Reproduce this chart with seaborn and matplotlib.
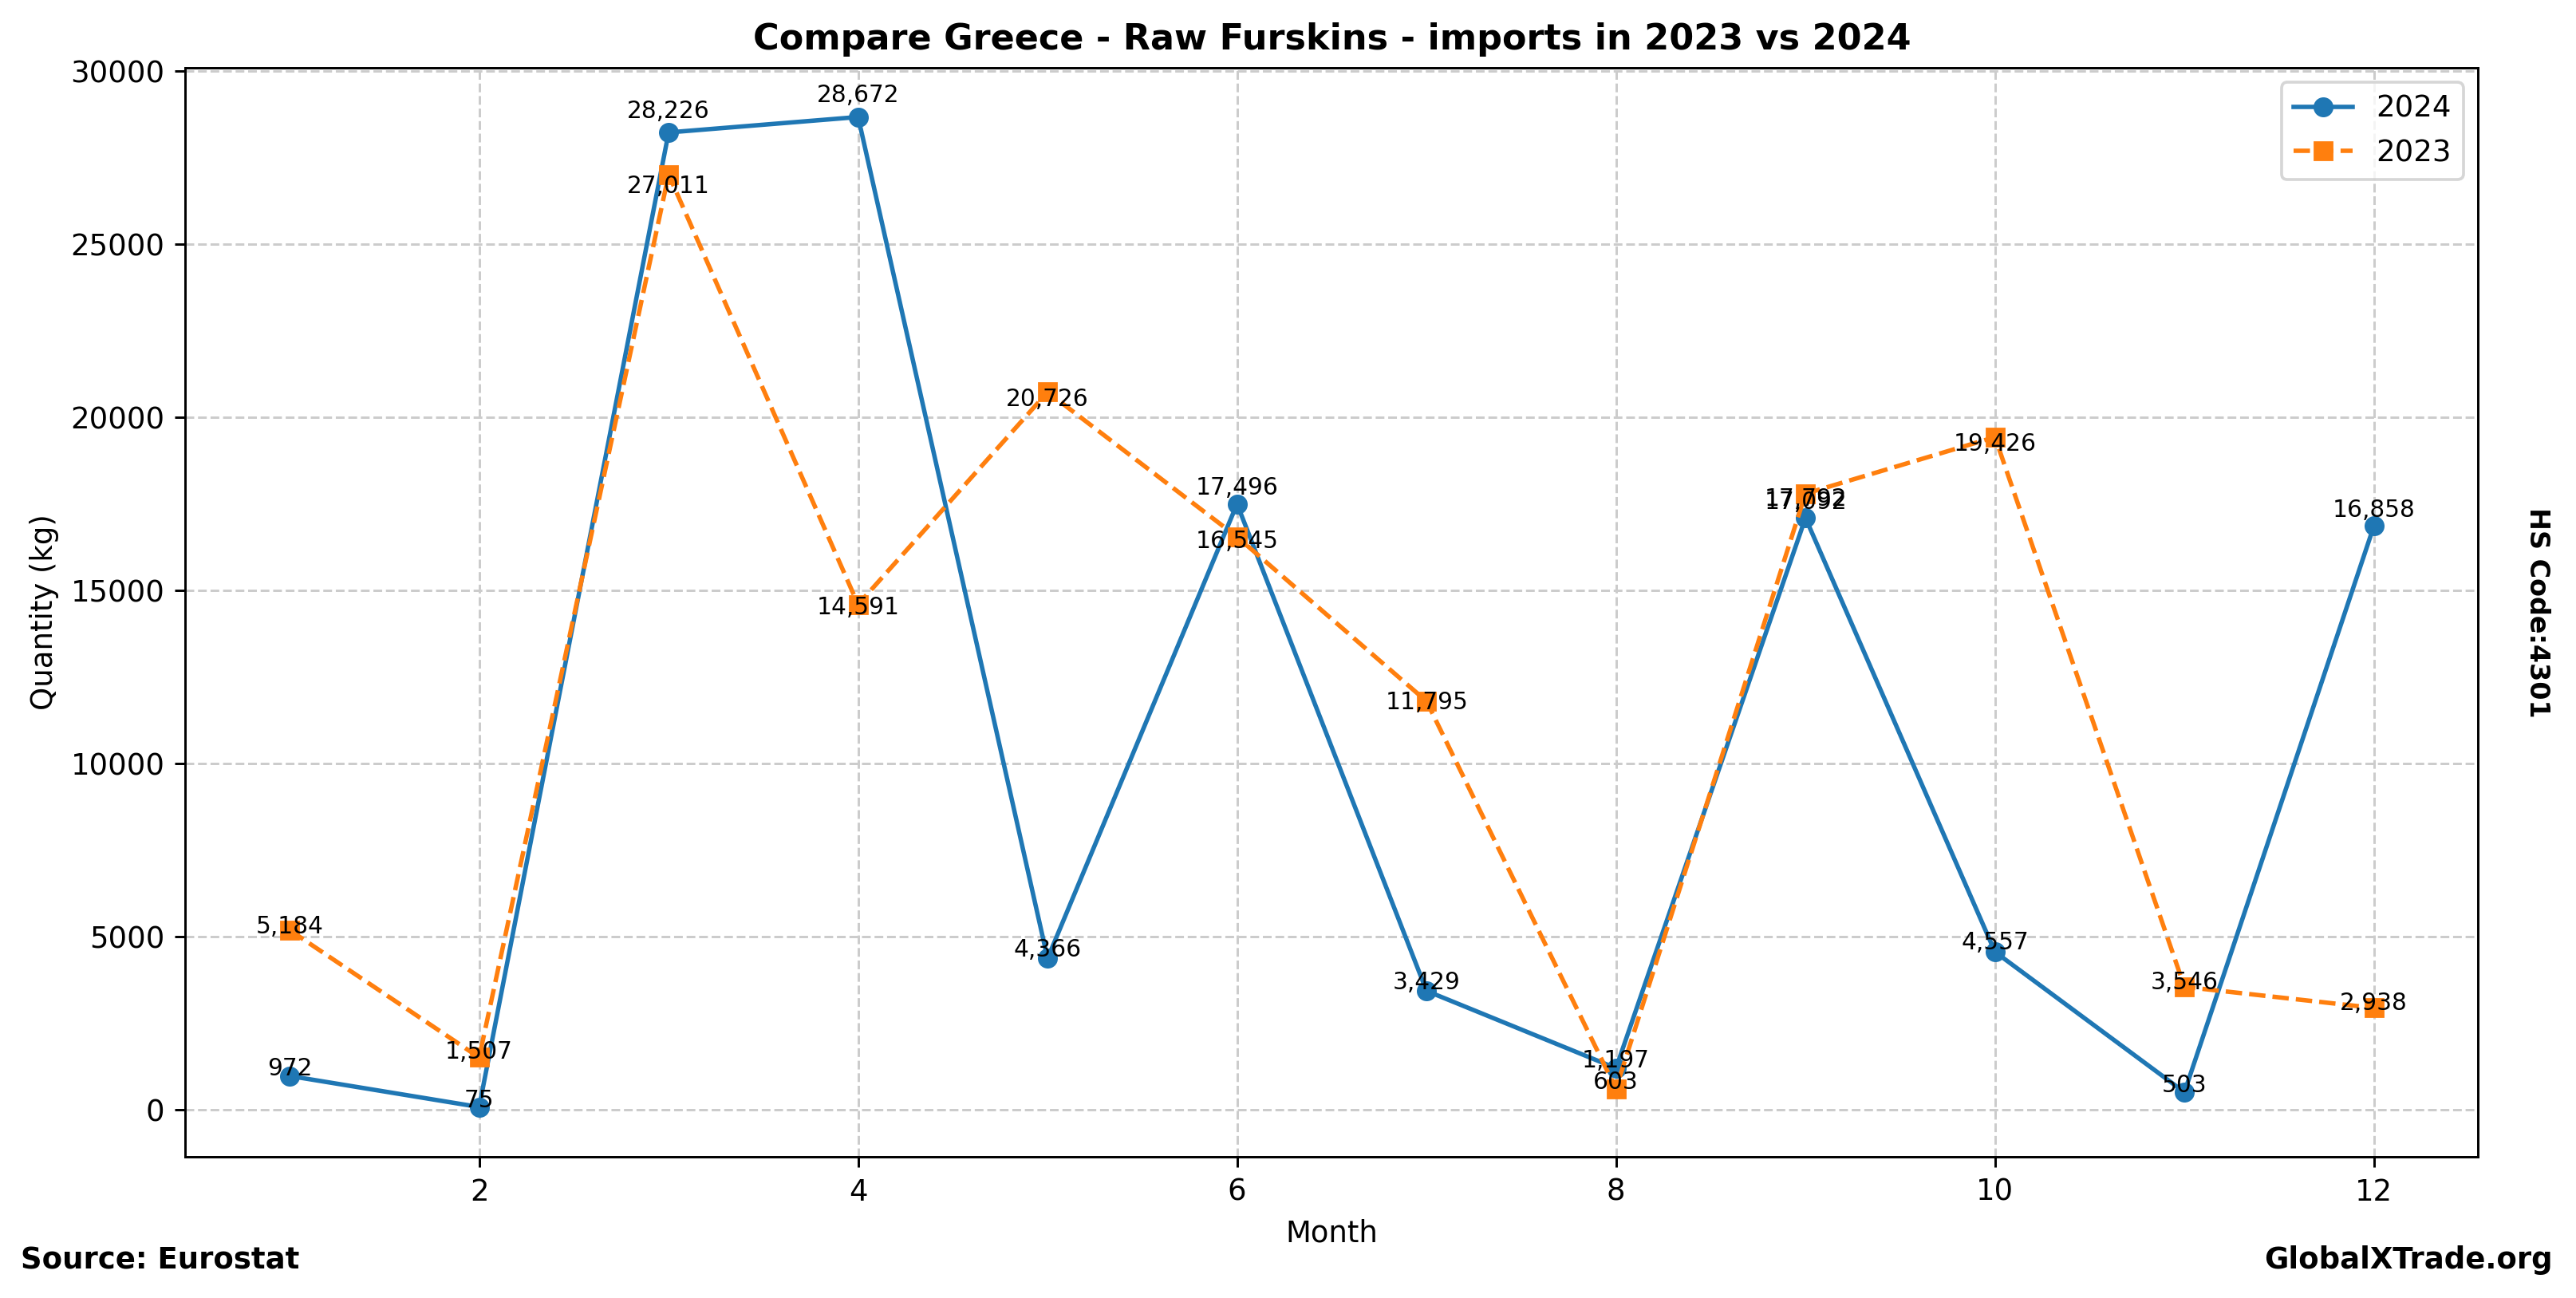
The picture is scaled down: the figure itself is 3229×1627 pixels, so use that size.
import numpy as np
import pandas as pd
import seaborn as sns
import matplotlib
matplotlib.use("Agg")
import matplotlib.pyplot as plt

# Monthly import quantities (kg)
months = [1, 2, 3, 4, 5, 6, 7, 8, 9, 10, 11, 12]
qty_2024 = [972, 75, 28226, 28672, 4366, 17496, 3429, 1197, 17092, 4557, 503, 16858]
qty_2023 = [5184, 1507, 27011, 14591, 20726, 16545, 11795, 603, 17792, 19426, 3546, 2938]

df_2024 = pd.DataFrame({"Month": months, "Quantity": qty_2024})
df_2023 = pd.DataFrame({"Month": months, "Quantity": qty_2023})

DPI = 266.67
fig, ax = plt.subplots(figsize=(3229 / DPI, 1627 / DPI), dpi=DPI)
fig.subplots_adjust(left=0.072, right=0.962, top=0.948, bottom=0.109)

sns.lineplot(data=df_2024, x="Month", y="Quantity", ax=ax, marker="o", markersize=6,
             color="#1f77b4", linewidth=1.5, markeredgecolor="#1f77b4", label="2024")
sns.lineplot(data=df_2023, x="Month", y="Quantity", ax=ax, marker="s", markersize=6,
             color="#ff7f0e", linewidth=1.5, linestyle="--", markeredgecolor="#ff7f0e", label="2023")

# value labels
for m, v in zip(months, qty_2024):
    ax.text(m, v * 1.015, f"{v:,}", ha="center", va="baseline", fontsize=8)
for m, v in zip(months, qty_2023):
    ax.text(m, v * 0.98, f"{v:,}", ha="center", va="baseline", fontsize=8)

ax.grid(True, linestyle="--", color="#cccccc", linewidth=0.8)
ax.set_title("Compare Greece - Raw Furskins - imports in 2023 vs 2024", fontsize=12, fontweight="bold")
ax.set_xlabel("Month", fontsize=10)
ax.set_ylabel("Quantity (kg)", fontsize=10)
ax.tick_params(labelsize=10)
ax.legend(loc="upper right", fontsize=10)

fig.text(0.985, 0.528, "HS Code:4301", rotation=270, ha="center", va="center",
         fontsize=9, fontweight="bold")
fig.text(0.008, 0.029, "Source: Eurostat", ha="left", va="center", fontsize=10, fontweight="bold")
fig.text(0.991, 0.029, "GlobalXTrade.org", ha="right", va="center", fontsize=10, fontweight="bold")

fig.savefig("out.png", dpi=DPI)
